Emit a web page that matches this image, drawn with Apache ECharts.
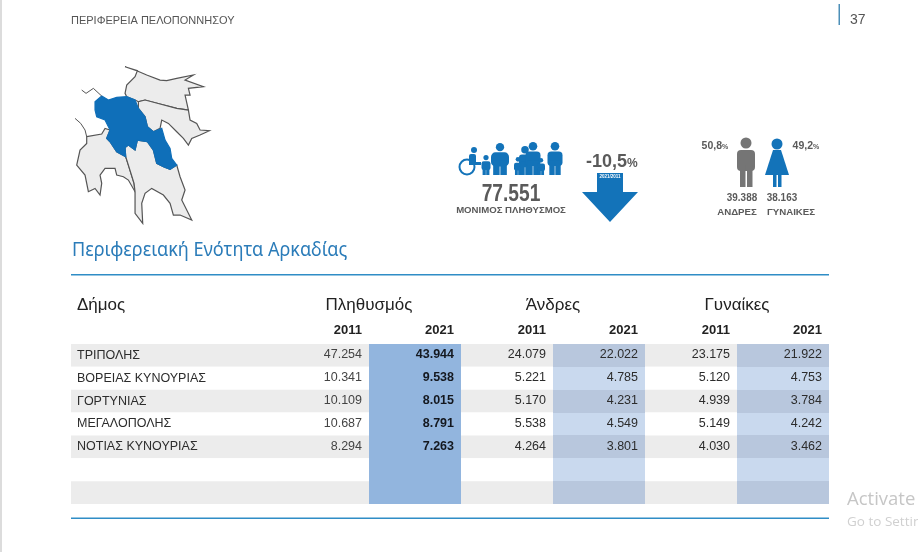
<!DOCTYPE html>
<html lang="el">
<head>
<meta charset="UTF-8">
<title>Περιφερειακή Ενότητα Αρκαδίας</title>
<script src="https://cdn.jsdelivr.net/npm/echarts@6/dist/echarts.min.js"></script>
<style>
    html, body { margin: 0; padding: 0; background: #fff; }
    #container { width: 918px; height: 552px; }
</style>
</head>
<body>
<div id="container"></div>
<script>
    // data
    var municipalities = ["ΤΡΙΠΟΛΗΣ", "ΒΟΡΕΙΑΣ ΚΥΝΟΥΡΙΑΣ", "ΓΟΡΤΥΝΙΑΣ", "ΜΕΓΑΛΟΠΟΛΗΣ", "ΝΟΤΙΑΣ ΚΥΝΟΥΡΙΑΣ"];
    var blankRows = ["", ""];
    var groups = ["Πληθυσμός", "Άνδρες", "Γυναίκες"];
    var years = ["2011", "2021", "2011", "2021", "2011", "2021"];
    var pop2011 = [47254, 10341, 10109, 10687, 8294];
    var pop2021 = [43944, 9538, 8015, 8791, 7263];
    var men2011 = [24079, 5221, 5170, 5538, 4264];
    var men2021 = [22022, 4785, 4231, 4549, 3801];
    var women2011 = [23175, 5120, 4939, 5149, 4030];
    var women2021 = [21922, 4753, 3784, 4242, 3462];

    var FONT = '"Liberation Sans", Arial, sans-serif';
    var BLUE = "#1373b9";
    var GREY = "#5a5a5a";

    function fmt(v) {
        return v == null ? "" : String(v).replace(/\B(?=(\d{3})+$)/g, ".");
    }

    var rows = municipalities.concat(blankRows);
    var columns = [pop2011, pop2021, men2011, men2021, women2011, women2021];
    var cells = [];
    for (var c = 0; c < columns.length; c++) {
        for (var r = 0; r < rows.length; r++) {
            cells.push([c, r, columns[c][r] == null ? null : columns[c][r]]);
        }
    }

    function renderCell(params, api) {
        var col = api.value(0), row = api.value(1), val = api.value(2);
        var p = api.coord([col, row]);
        var s = api.size([1, 1]);
        var children = [];
        var striped = row % 2 === 0;
        // round the edges so neighbouring cells leave no seam
        var y0 = Math.round(p[1] - s[1] / 2), y1 = Math.round(p[1] + s[1] / 2);
        var cellRect = { x: p[0] - s[0] / 2, y: y0, width: s[0], height: y1 - y0 };
        if (col === 1) {
            children.push({ type: "rect", shape: cellRect, style: { fill: "#92b5de" } });
        } else if (col % 2 === 1) {
            children.push({ type: "rect", shape: cellRect, style: { fill: striped ? "#b8c7dd" : "#c9d9ee" } });
        }
        if (!isNaN(val)) {
            children.push({ type: "text", style: { text: fmt(val), x: p[0] + s[0] / 2 - 7, y: p[1] - 0.5,
                align: "right", verticalAlign: "middle", fill: col === 1 ? "#14181f" : (col === 0 ? "#444" : "#2c2c2c"),
                font: (col === 1 ? "bold " : "") + "12.5px " + FONT } });
        }
        return { type: "group", children: children };
    }

    // outlines (1 unit = 1/3 px)
    function region(name, pts) {
        return { type: "Feature", properties: { name: name }, geometry: { type: "Polygon",
            coordinates: [pts.concat([pts[0]]).map(function (q) { return [q[0], -q[1]]; })] } };
    }
    var arcadia = [[105,125],[125,108],[145,120],[170,112],[200,110],[225,120],[235,145],[255,170],[262,200],[280,215],[305,205],[315,240],[330,265],[335,295],[350,315],[330,328],[310,320],[290,310],[280,270],[262,245],[232,240],[225,270],[205,255],[195,262],[197,290],[170,275],[150,245],[140,235],[150,210],[135,180],[110,170],[105,150]];
    var argolis = [[235,145],[235,125],[255,120],[300,132],[350,145],[385,150],[390,180],[410,190],[420,210],[448,212],[420,225],[395,235],[385,255],[370,235],[350,215],[325,190],[305,180],[300,205],[280,215],[262,200],[255,170]];
    var corinthia = [[195,100],[200,75],[225,50],[232,32],[195,20],[232,33],[260,45],[300,60],[320,62],[350,55],[400,45],[375,60],[430,80],[385,85],[390,105],[375,105],[385,150],[350,145],[300,132],[255,120],[235,125],[225,120],[200,110]];
    var messinia = [[80,230],[125,222],[135,205],[150,210],[140,235],[150,245],[170,275],[197,290],[205,315],[222,370],[225,395],[205,360],[190,350],[170,345],[165,325],[135,325],[120,345],[125,370],[120,405],[105,385],[85,395],[75,345],[50,315],[60,270],[80,250]];
    var laconia = [[197,290],[195,262],[205,255],[225,270],[232,240],[262,245],[280,270],[290,310],[310,320],[330,328],[350,315],[360,350],[375,390],[365,420],[395,480],[360,465],[340,465],[330,430],[310,405],[275,385],[255,400],[245,430],[248,490],[225,460],[225,395],[222,370],[205,315]];
    echarts.registerMap("peloponnese", { type: "FeatureCollection", features: [
        region("corinthia", corinthia), region("argolis", argolis), region("messinia", messinia),
        region("laconia", laconia), region("arcadia", arcadia)] });
    var openCoasts = [
        { coords: [[65,90],[78,100],[100,85],[125,108]] },
        { coords: [[45,175],[62,190],[75,210],[80,230]] }
    ].map(function (l) { return { coords: l.coords.map(function (q) { return [q[0], -q[1]]; }) }; });

    function text(x, y, str, size, fill, opts) {
        opts = opts || {};
        return { type: "text", x: x, y: y, scaleX: opts.scaleX || 1, silent: true, style: { text: str, fill: fill,
            font: (opts.weight ? opts.weight + " " : "") + size + "px " + (opts.family || FONT),
            align: opts.align || "left", verticalAlign: "middle" } };
    }
    function circle(cx, cy, r, fill) {
        return { type: "circle", shape: { cx: cx, cy: cy, r: r }, style: { fill: fill }, silent: true };
    }
    function box(x, y, w, h, fill, rad) {
        return { type: "rect", shape: { x: x, y: y, width: w, height: h, r: rad || 0 }, style: { fill: fill }, silent: true };
    }
    function poly(points, fill) {
        return { type: "polygon", shape: { points: points }, style: { fill: fill }, silent: true };
    }
    // small pictogram figure: head, torso, two legs
    function figure(cx, top, h, w, fill) {
        var hr = h * 0.13;
        return [
            circle(cx, top + hr, hr, fill),
            box(cx - w / 2, top + hr * 2 + 1, w, h * 0.44, fill, w * 0.25),
            box(cx - w * 0.38, top + h * 0.55, w * 0.36, h * 0.45, fill),
            box(cx + w * 0.02, top + h * 0.55, w * 0.36, h * 0.45, fill)
        ];
    }

    var bold = { weight: "bold" };
    var boldMid = { weight: "bold", align: "center" };
    var decoration = [
        box(0, 0, 2, 552, "#dcdcdc"),
        text(71, 21, "ΠΕΡΙΦΕΡΕΙΑ ΠΕΛΟΠΟΝΝΗΣΟΥ", 11, "#555"),
        box(838.5, 4, 1.5, 21, "#4d8fb8"),
        text(850, 20, "37", 14, "#555"),
        text(72, 250, "Περιφερειακή Ενότητα Αρκαδίας", 20, "#2b7cb9", { family: '"Noto Sans", sans-serif', scaleX: 0.905 }),
        box(71, 274, 758, 1.5, "#2f8dc6"),
        box(71, 517.5, 758, 1.5, "#2f8dc6"),
        text(77, 305, "Δήμος", 17, "#222"),
        text(511, 194, "77.551", 24, GREY, { weight: "bold", align: "center", scaleX: 0.8 }),
        text(511, 210, "ΜΟΝΙΜΟΣ ΠΛΗΘΥΣΜΟΣ", 9.6, GREY, boldMid),
        text(627, 162, "-10,5", 18, GREY, { weight: "bold", align: "right" }),
        text(627, 164, "%", 12, GREY, bold),
        poly([[597, 173], [623, 173], [623, 192], [638, 192], [610, 222], [582, 192], [597, 192]], BLUE),
        text(610, 177, "2021/2011", 4.5, "#fff", boldMid),
        text(722, 146, "50,8", 10.5, GREY, { weight: "bold", align: "right" }),
        text(722, 147, "%", 7, GREY, bold),
        text(813, 146, "49,2", 10.5, GREY, { weight: "bold", align: "right" }),
        text(813, 147, "%", 7, GREY, bold),
        text(742, 198, "39.388", 11, GREY, { weight: "bold", align: "center", scaleX: 0.9 }),
        text(782, 198, "38.163", 11, GREY, { weight: "bold", align: "center", scaleX: 0.9 }),
        text(737, 212, "ΑΝΔΡΕΣ", 9.7, GREY, boldMid),
        text(791, 212, "ΓΥΝΑΙΚΕΣ", 9.7, GREY, boldMid),
        // man
        circle(746, 143, 5.5, "#757575"),
        box(737, 150, 18, 21, "#757575", 4),
        box(740, 165, 5.5, 22, "#757575"),
        box(747, 165, 5.5, 22, "#757575"),
        // woman
        circle(777, 144, 5.5, BLUE),
        poly([[773, 150], [781, 150], [789, 175], [765, 175]], BLUE),
        box(773, 174, 3.5, 13, BLUE),
        box(778, 174, 3.5, 13, BLUE),
        // wheelchair
        { type: "circle", shape: { cx: 467, cy: 167, r: 7.5 }, style: { fill: "none", stroke: BLUE, lineWidth: 2 }, silent: true },
        circle(474, 150, 3, BLUE),
        box(469, 154, 7, 11, BLUE, 2),
        box(469, 162, 12, 3, BLUE)
    ].concat(figure(486, 155, 20, 9, BLUE))
     .concat(figure(500, 143, 32, 18, BLUE))
     .concat(figure(518, 157, 18, 8, BLUE))
     .concat(figure(525, 146, 29, 12, BLUE))
     .concat(figure(533, 142, 33, 15, BLUE))
     .concat(figure(541, 158, 17, 8, BLUE))
     .concat(figure(555, 142, 33, 15, BLUE))
     .concat([
        text(847, 500, "Activate", 18.5, "#c6c6c6", { family: '"Open Sans", sans-serif' }),
        text(847, 522, "Go to Settings", 13.5, "#d0d0d0", { family: '"Open Sans", sans-serif' })
     ]);

    var myChart = echarts.init(document.getElementById("container"));
    var stripes = { show: true, areaStyle: { color: ["#ececec", "#ffffff"] } };
    var option = {
        animation: false,
        backgroundColor: "#fff",
        textStyle: { fontFamily: FONT },
        geo: {
            map: "peloponnese", left: 76.7, top: 66.7, width: 132.7, height: 156.7, aspectScale: 1, silent: true,
            label: { show: false },
            itemStyle: { areaColor: "#ececec", borderColor: "#555", borderWidth: 1.2 },
            regions: [{ name: "arcadia", itemStyle: { areaColor: "#0f6fb9", borderColor: "#0f6fb9" } }]
        },
        grid: [
            { left: 277, right: 89, top: 344, height: 160 },
            { left: 71, width: 206, top: 344, height: 160 }
        ],
        xAxis: [
            { type: "category", gridIndex: 0, position: "top", data: years,
              axisLine: { show: false }, axisTick: { show: false },
              axisLabel: { interval: 0, margin: 7, align: "right", padding: [0, -39, 0, 0],
                           color: "#222", fontWeight: "bold", fontSize: 13, fontFamily: FONT } },
            { type: "category", gridIndex: 0, position: "top", offset: 21, data: groups,
              axisLine: { show: false }, axisTick: { show: false },
              axisLabel: { interval: 0, margin: 9, color: "#222", fontSize: 17, fontFamily: FONT } },
            { type: "value", gridIndex: 1, show: false, min: 0, max: 1 }
        ],
        yAxis: [
            { type: "category", gridIndex: 0, inverse: true, data: rows,
              axisLine: { show: false }, axisTick: { show: false }, axisLabel: { show: false }, splitArea: stripes },
            { type: "category", gridIndex: 1, inverse: true, data: rows,
              axisLine: { show: false }, axisTick: { show: false }, splitArea: stripes,
              axisLabel: { inside: true, interval: 0, margin: 6, align: "left", color: "#2c2c2c", fontSize: 12.5, fontFamily: FONT } }
        ],
        series: [
            { type: "custom", xAxisIndex: 0, yAxisIndex: 0, data: cells, renderItem: renderCell,
              encode: { x: 0, y: 1 }, silent: true, clip: false },
            { type: "lines", coordinateSystem: "geo", polyline: true, silent: true, data: openCoasts,
              lineStyle: { color: "#555", width: 1, opacity: 1 } }
        ],
        graphic: decoration
    };
    myChart.setOption(option);

    window.onresize = function () {
        myChart.resize();
    };
</script>
</body>
</html>
